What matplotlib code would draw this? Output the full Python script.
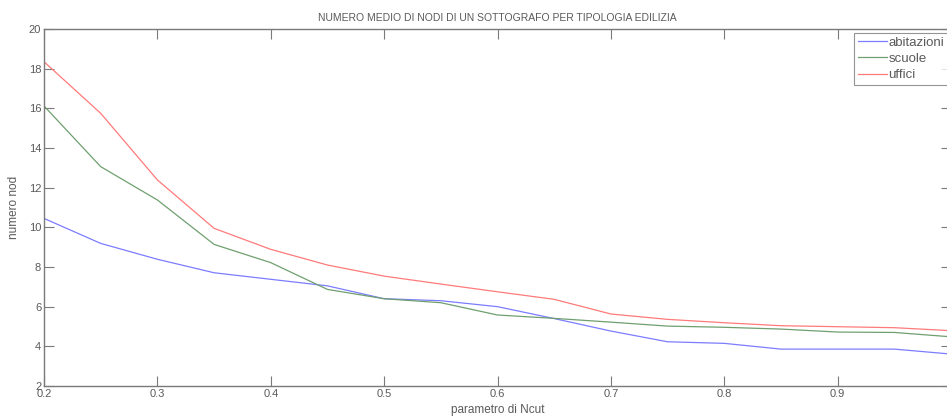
import matplotlib
matplotlib.use("Agg")
import matplotlib.pyplot as plt

# parametro di Ncut
ncut = [0.2, 0.25, 0.3, 0.35, 0.4, 0.45, 0.5, 0.55, 0.6, 0.65,
        0.7, 0.75, 0.8, 0.85, 0.9, 0.95, 1.0]

# numero medio di nodi per tipologia
abitazioni = [10.45, 9.19, 8.39, 7.71, 7.38, 7.05, 6.4, 6.3, 6.0, 5.4,
              4.77, 4.23, 4.15, 3.86, 3.86, 3.86, 3.61]
scuole = [16.12, 13.06, 11.38, 9.14, 8.22, 6.87, 6.4, 6.2, 5.58, 5.41,
          5.22, 5.02, 4.96, 4.87, 4.72, 4.7, 4.48]
uffici = [18.35, 15.75, 12.39, 9.95, 8.89, 8.1, 7.54, 7.14, 6.75, 6.37,
          5.63, 5.36, 5.19, 5.04, 4.99, 4.94, 4.79]

xticks = [0.2, 0.3, 0.4, 0.5, 0.6, 0.7, 0.8, 0.9]
yticks = [2, 4, 6, 8, 10, 12, 14, 16, 18, 20]

plt.rcParams['font.family'] = ['Liberation Sans', 'DejaVu Sans']
grey = '#7a7a7a'
txt = '#5a5a5a'

fig = plt.figure(figsize=(9.47, 4.16), dpi=100)
# axes goes slightly past the right edge, like the cropped original
ax = fig.add_axes([44 / 947, 1 - 386 / 416, 907 / 947, 357 / 416])

ax.plot(ncut, abitazioni, color='#7c7cff', lw=0.9, label='abitazioni')
ax.plot(ncut, scuole, color='#6f9f6f', lw=0.9, label='scuole')
ax.plot(ncut, uffici, color='#ff7a7a', lw=0.9, label='uffici')

ax.set_xlim(0.2, 1.0)
ax.set_ylim(2, 20)
ax.set_xticks(xticks)
ax.set_xticklabels([str(t) for t in xticks])
ax.set_yticks(yticks)

for s in ax.spines.values():
    s.set_color(grey)
    s.set_linewidth(1.0)
ax.tick_params(direction='in', top=True, right=True, length=7, width=0.8,
               colors=grey, labelcolor=txt, labelsize=8, pad=2)

ax.set_title('NUMERO MEDIO DI NODI DI UN SOTTOGRAFO PER TIPOLOGIA EDILIZIA',
             fontsize=7.5, color=txt, pad=6)
ax.set_xlabel('parametro di Ncut', fontsize=8.5, color=txt, labelpad=4)
ax.set_ylabel('numero nod', fontsize=8.5, color=txt, labelpad=6)

leg = ax.legend(loc='upper right', bbox_to_anchor=(0.997, 0.99), fontsize=9.5,
                frameon=True, fancybox=False, handlelength=2.2, handletextpad=0.1,
                borderpad=0.3, labelspacing=0.3, borderaxespad=0)
leg.get_frame().set_edgecolor(grey)
leg.get_frame().set_linewidth(0.8)
for t in leg.get_texts():
    t.set_color(txt)

fig.savefig('out.png', dpi=100)
